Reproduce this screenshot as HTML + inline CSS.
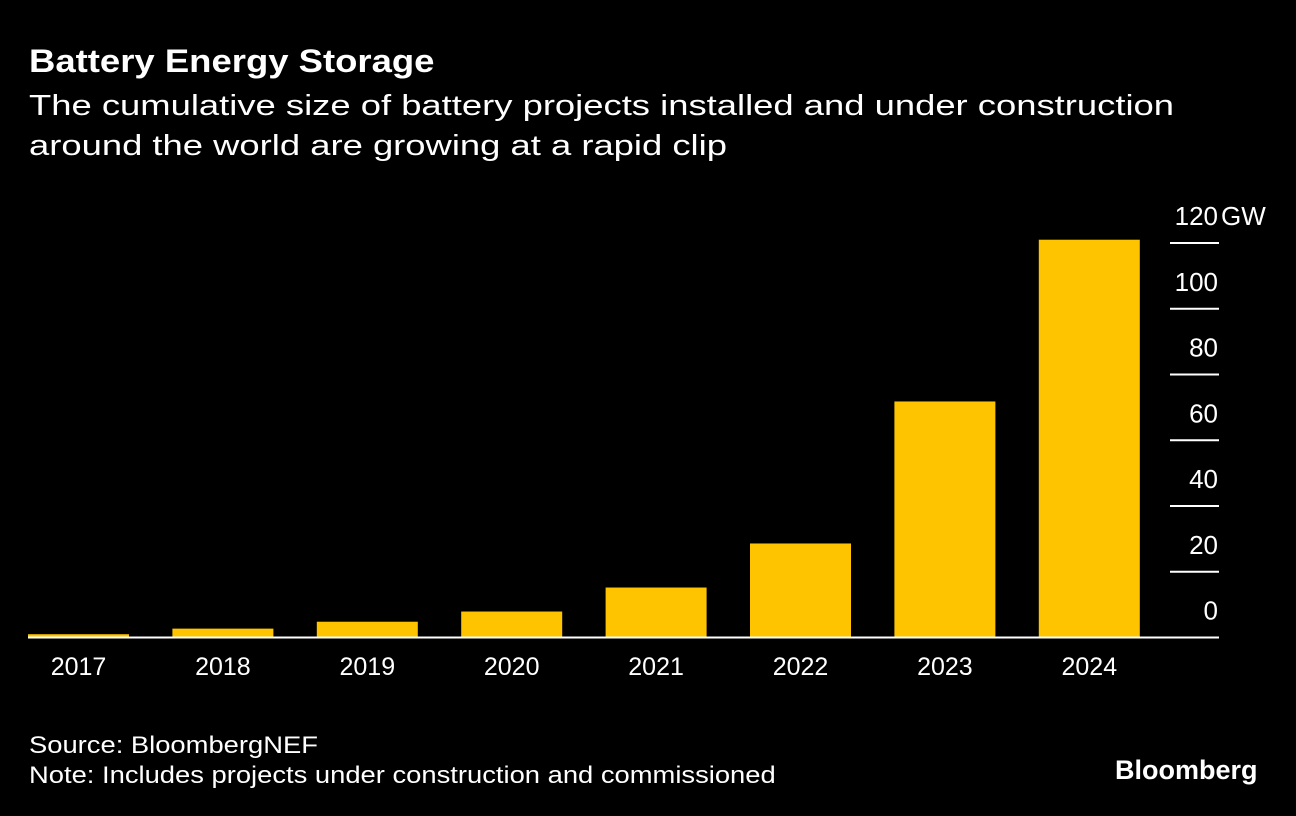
<!DOCTYPE html>
<html><head><meta charset="utf-8"><style>
body{margin:0;background:#000;width:1296px;height:816px;overflow:hidden;font-family:"Liberation Sans",sans-serif;color:#fff}
.t{position:absolute;white-space:nowrap;transform-origin:0 0}
</style></head><body>
<div class="t" style="left:29px;top:43px;font-size:32px;font-weight:bold;transform:scaleX(1.14)">Battery Energy Storage</div>
<div class="t" style="left:29px;top:86px;font-size:29px;line-height:40px;transform:scaleX(1.255)">The cumulative size of battery projects installed and under construction<br>around the world are growing at a rapid clip</div>
<svg id="c" width="1296" height="816" style="position:absolute;left:0;top:0"></svg>
<div class="t" style="left:29px;top:731px;font-size:24px;line-height:30px;transform:scaleX(1.14)">Source: BloombergNEF<br>Note: Includes projects under construction and commissioned</div>
<div class="t" style="left:1115px;top:755px;font-size:27px;font-weight:bold">Bloomberg</div>
<script>
const categories=["2017","2018","2019","2020","2021","2022","2023","2024"];
const values=[1,2.7,4.8,7.9,15.2,28.6,71.8,121];
const ticks=[0,20,40,60,80,100,120];
const tickLabels=["0","20","40","60","80","100","120"];
const svg=document.getElementById('c');const NS="http://www.w3.org/2000/svg";
const y=v=>637.5-v*(394.5/120);
const x=i=>28+i*144.4;
function mk(t,a){const e=document.createElementNS(NS,t);for(const k in a)e.setAttribute(k,a[k]);svg.appendChild(e);return e;}
values.forEach((v,i)=>{
 const r=mk('rect',{x:x(i),y:y(v),width:101,height:637.5-y(v),fill:'#ffc400'});
 
 
 const t=mk('text',{x:x(i)+50.5,y:675,'text-anchor':'middle','font-size':25,fill:'#fff','font-family':'Liberation Sans'});
 t.textContent=categories[i];
 
 
});
ticks.forEach((v,i)=>{
 if(v>0){const l=mk('line',{x1:1170,x2:1219,y1:y(v),y2:y(v),stroke:'#fff','stroke-width':2});
 
 }
 const t=mk('text',{x:1218,y:y(v)-18,'text-anchor':'end','font-size':26,fill:'#fff','font-family':'Liberation Sans'});
 t.textContent=tickLabels[i];
 
 
});
const u=mk('text',{x:1221,y:y(120)-18,'font-size':26,fill:'#fff','font-family':'Liberation Sans'});u.textContent='GW';


const b=mk('line',{x1:28,x2:1219,y1:637.5,y2:637.5,stroke:'#fff','stroke-width':2});


</script>
</body></html>
